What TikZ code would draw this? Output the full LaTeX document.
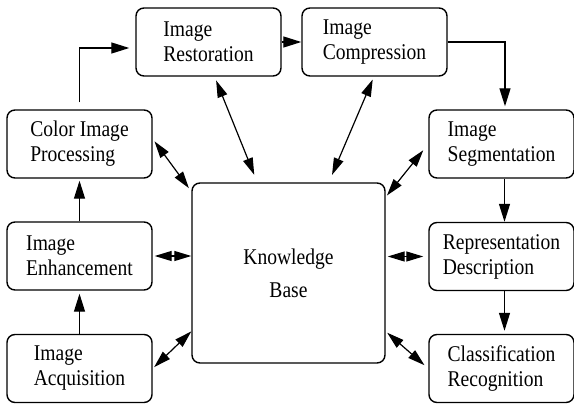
\documentclass[tikz,border=0pt]{standalone}
\usepackage{fontspec}
\setmainfont{Liberation Serif}[FakeStretch=0.87]
\usetikzlibrary{arrows.meta}

\begin{document}
\begin{tikzpicture}[
        x=1pt,
        y=-1pt,
        stage/.style={
                draw,
                line width=1.4pt,
                rounded corners=8pt,
                minimum width=145pt,
                minimum height=68pt,
                align=left,
                font=\fontsize{22.5}{25}\selectfont
                },
        kbase/.style={
                draw,
                line width=1.4pt,
                rounded corners=8pt,
                minimum width=193pt,
                minimum height=180pt,
                align=center,
                font=\fontsize{22.5}{33}\selectfont
                },
        flow/.style={
                line width=1.3pt,
                -{Triangle[length=18pt,width=11pt]}
                },
        link/.style={
                line width=1.2pt,
                {Triangle[length=17pt,width=10pt]}-{Triangle[length=17pt,width=10pt]}
                }
        ]

\useasboundingbox (0,0) rectangle (574,404);

%processing stages
\node[stage] (rest)  at (208.5,42)  {Image\\Restoration};
\node[stage] (comp)  at (374.5,42)  {Image\\Compression};
\node[stage] (color) at (79.5,144)  {Color Image\\Processing};
\node[stage] (seg)   at (501.5,144) {Image\\Segmentation};
\node[stage] (enh)   at (79.5,256)  {Image\\Enhancement};
\node[stage] (rep)   at (501.5,256.5) {Representation\\Description};
\node[stage] (acq)   at (79.5,368.5) {Image\\Acquisition};
\node[stage] (cls)   at (501.5,368.5) {Classification\\Recognition};

%knowledge base
\node[kbase] (kb) at (288.5,273) {Knowledge\\Base};

%main chain
\draw[flow, shorten >=3pt] (acq.north) -- (enh.south);
\draw[flow, shorten >=2pt] (enh.north) -- (color.south);
\draw[
        flow,
        shorten <=7pt,
        shorten >=6pt
        ]
        (color.north) |- ([yshift=-6pt]rest.west);
\draw[flow] (rest.east) -- (comp.west);
\draw[flow, shorten >=3pt] (comp.east) -| ([xshift=3.5pt]seg.north);
\draw[flow] ([xshift=3pt]seg.south) -- ([xshift=3pt]rep.north);
\draw[flow, shorten >=3pt] ([xshift=3pt]rep.south) -- ([xshift=3pt]cls.north);

%links to the knowledge base
\draw[link, shorten <=4pt, shorten >=8pt] (rest.-80) -- (kb.109);
\draw[link, shorten <=3pt, shorten >=8pt] (comp.-91) -- (kb.66);
\draw[link, shorten <=3pt, shorten >=4pt] (color.4) -- (kb.140);
\draw[link, shorten <=8pt, shorten >=2pt] (seg.west) -- (kb.38);
\draw[link, shorten <=2pt] (enh.east) -- (enh.east -| kb.west);
\draw[link, shorten <=5pt, shorten >=2pt] (rep.west) -- (rep.west -| kb.east);
\draw[link, shorten <=2pt] (acq.east) -- (kb.211);
\draw[link, shorten <=5pt, shorten >=2pt] (cls.west) -- (kb.-31);
\end{tikzpicture}
\end{document}
